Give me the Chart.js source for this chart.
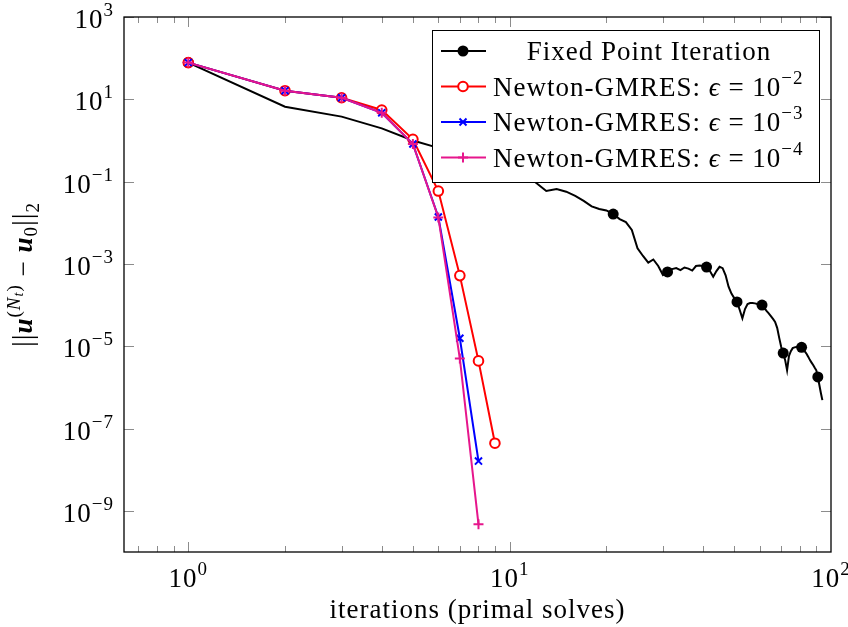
<!DOCTYPE html>
<html>
<head>
<meta charset="utf-8">
<script src="https://cdn.jsdelivr.net/npm/chart.js@4.4.0/dist/chart.umd.min.js"></script>
<style>
  html, body { margin: 0; padding: 0; background: #fff; }
</style>
</head>
<body>
<canvas id="grafico" width="848" height="627"></canvas>
<script>
// dados (eixos log-log)
const iteracoesFixo = [
  1, 2, 3, 4, 5, 6, 7, 8, 9, 10, 11, 12, 13, 14, 15, 16, 17, 18, 19, 20,
  21, 22, 23, 24, 25, 26, 27, 28, 29, 30, 31, 32, 33, 34, 35, 36, 37, 38, 39, 40,
  41, 42, 43, 44, 45, 46, 47, 48, 49, 50, 51, 52, 53, 54, 55, 56, 57, 58, 59, 60,
  61, 62, 63, 64, 65, 66, 67, 68, 69, 70, 71, 72, 73, 74, 75, 76, 77, 78, 79, 80,
  81, 82, 83, 84, 85, 86, 87, 88, 89, 90, 91, 92, 93, 94
];
const erroFixo = [
  78, 6.6, 3.8, 1.97, 1.0, 0.66, 0.52, 0.38, 0.28, 0.2,
  0.145, 0.098, 0.059, 0.066, 0.057, 0.045, 0.034, 0.025, 0.0216, 0.0199,
  0.0163, 0.0123, 0.0104, 0.0067, 0.0024, 0.00156, 0.00107, 0.00128, 8.9e-4, 5.4e-4,
  6.4e-4, 7.5e-4, 7.9e-4, 7.1e-4, 8.2e-4, 7.7e-4, 6.9e-4, 8.9e-4, 9.1e-4, 8.9e-4,
  8.4e-4, 6.7e-4, 4.9e-4, 6.7e-4, 8.5e-4, 7.9e-4, 5.3e-4, 2.8e-4, 1.9e-4, 1.48e-4,
  1.19e-4, 7.6e-5, 4.8e-5, 8.0e-5, 1.06e-4, 1.12e-4, 1.12e-4, 1.10e-4, 1.06e-4, 1.03e-4,
  1.0e-4, 8.5e-5, 7.2e-5, 6.3e-5, 5.4e-5, 4.6e-5, 3.9e-5, 2.8e-5, 1.6e-5, 9.6e-6,
  6.8e-6, 4.6e-6, 2.6e-6, 5.8e-6, 7.6e-6, 9.0e-6, 9.4e-6, 9.6e-6, 9.6e-6, 9.5e-6,
  9.4e-6, 8.6e-6, 7.4e-6, 6.5e-6, 5.5e-6, 4.6e-6, 4.0e-6, 3.5e-6, 3.0e-6, 2.6e-6,
  1.8e-6, 1.14e-6, 7.3e-7, 4.9e-7
];

const iteracoesEps2 = [1, 2, 3, 4, 5, 6, 7, 8, 9];
const erroEps2 = [78, 16.2, 10.9, 5.5, 1.07, 0.059, 5.2e-4, 4.4e-6, 4.4e-8];

const iteracoesEps3 = [1, 2, 3, 4, 5, 6, 7, 8];
const erroEps3 = [78, 16.2, 10.9, 4.7, 0.82, 0.0138, 1.56e-5, 1.62e-8];

const iteracoesEps4 = [1, 2, 3, 4, 5, 6, 7, 8];
const erroEps4 = [78, 16.2, 10.9, 4.7, 0.82, 0.0135, 5.0e-6, 4.7e-10];

// marcas dos eixos
const ticksX = [1, 10, 100];
const expoentesX = ["0", "1", "2"];
const ticksY = [1e3, 1e1, 1e-1, 1e-3, 1e-5, 1e-7, 1e-9];
const expoentesY = ["3", "1", "\u22121", "\u22123", "\u22125", "\u22127", "\u22129"];

const FONTE = '"Liberation Serif", "DejaVu Serif", serif';
const ROSA = "#e6168c";
const TAM = 27;     // tamanho do texto normal
const SUP = 19;     // tamanho do sobrescrito

function pares(xs, ys) {
  let lista = [];
  for (let i = 0; i < xs.length; i++) {
    lista.push({ x: xs[i], y: ys[i] });
  }
  return lista;
}

// escreve texto com sobrescrito/subscrito: [texto, tamanho, estilo, deslocamento]
function textoRico(ctx, partes, x, y, alinhamento) {
  ctx.letterSpacing = "1px";
  let largura = 0;
  partes.forEach(function (p) {
    ctx.font = `${p[2]} ${p[1]}px ${FONTE}`;
    largura += ctx.measureText(p[0]).width;
  });
  let cx = x;
  if (alinhamento == "center") cx = x - largura / 2;
  if (alinhamento == "right") cx = x - largura;
  ctx.textAlign = "left";
  ctx.textBaseline = "alphabetic";
  partes.forEach(function (p) {
    ctx.font = `${p[2]} ${p[1]}px ${FONTE}`;
    ctx.fillText(p[0], cx, y + p[3]);
    cx += ctx.measureText(p[0]).width;
  });
  ctx.letterSpacing = "0px";
}

function potencia(exp) {
  return [["10", TAM, "normal", 0], [exp, SUP, "normal", -12]];
}

function marca(ctx, tipo, cor, x, y) {
  ctx.save();
  ctx.strokeStyle = cor;
  ctx.fillStyle = cor;
  ctx.lineWidth = 2;
  ctx.beginPath();
  if (tipo == "bola") {
    ctx.arc(x, y, 5.5, 0, Math.PI * 2);
    ctx.fill();
  } else if (tipo == "circulo") {
    ctx.fillStyle = "#fff";
    ctx.arc(x, y, 4.8, 0, Math.PI * 2);
    ctx.fill();
    ctx.stroke();
  } else if (tipo == "xis") {
    ctx.moveTo(x - 3.5, y - 3.5); ctx.lineTo(x + 3.5, y + 3.5);
    ctx.moveTo(x - 3.5, y + 3.5); ctx.lineTo(x + 3.5, y - 3.5);
    ctx.stroke();
  } else {
    ctx.moveTo(x - 5, y); ctx.lineTo(x + 5, y);
    ctx.moveTo(x, y - 5); ctx.lineTo(x, y + 5);
    ctx.stroke();
  }
  ctx.restore();
}

const pluginEixos = {
  id: "eixos",
  afterDraw: function (chart) {
    const ctx = chart.ctx;
    const area = chart.chartArea;
    const sx = chart.scales.x;
    const sy = chart.scales.y;
    ctx.save();

    // marcas menores e maiores, para dentro, nos quatro lados
    ctx.strokeStyle = "#8c8c8c";
    ctx.lineWidth = 1;
    for (let d = -1; d <= 1; d++) {
      for (let m = 1; m <= 9; m++) {
        let v = m * Math.pow(10, d);
        if (v < sx.min || v > sx.max) continue;
        let px = Math.round(sx.getPixelForValue(v)) + 0.5;
        let tam = m == 1 ? 10 : 6;
        ctx.beginPath();
        ctx.moveTo(px, area.bottom); ctx.lineTo(px, area.bottom - tam);
        ctx.moveTo(px, area.top); ctx.lineTo(px, area.top + tam);
        ctx.stroke();
      }
    }
    ticksY.forEach(function (v) {
      let py = Math.round(sy.getPixelForValue(v)) + 0.5;
      ctx.beginPath();
      ctx.moveTo(area.left, py); ctx.lineTo(area.left + 10, py);
      ctx.moveTo(area.right, py); ctx.lineTo(area.right - 10, py);
      ctx.stroke();
    });

    // moldura
    ctx.strokeStyle = "#000";
    ctx.lineWidth = 1.3;
    ctx.strokeRect(area.left, area.top, area.right - area.left, area.bottom - area.top);

    // rótulos
    ctx.fillStyle = "#000";
    ticksX.forEach(function (v, i) {
      textoRico(ctx, potencia(expoentesX[i]), sx.getPixelForValue(v), area.bottom + 35, "center");
    });
    ticksY.forEach(function (v, i) {
      textoRico(ctx, potencia(expoentesY[i]), area.left - 10, sy.getPixelForValue(v) + 11, "right");
    });

    // títulos dos eixos
    textoRico(ctx, [["iterations (primal solves)", TAM, "normal", 0]],
      (area.left + area.right) / 2, area.bottom + 66, "center");

    ctx.save();
    ctx.translate(32, (area.top + area.bottom) / 2 - 10);
    ctx.rotate(-Math.PI / 2);
    textoRico(ctx, [
      ["||", TAM + 2, "normal", 0],
      ["u", TAM, "italic bold", 0],
      ["(", SUP, "normal", -12],
      ["N", SUP, "italic", -12],
      ["t", 14, "italic", -9],
      [")", SUP, "normal", -12],
      [" \u2212 ", TAM, "normal", 0],
      ["u", TAM, "italic bold", 0],
      ["0", SUP, "normal", 5],
      ["||", TAM + 2, "normal", 0],
      ["2", SUP, "normal", 7]
    ], 0, 0, "center");
    ctx.restore();

    // legenda
    const lx = area.right - 399;
    const ly = area.top + 13;
    const lw = 387;
    const lh = 152;
    ctx.fillStyle = "#fff";
    ctx.fillRect(lx, ly, lw, lh);
    ctx.strokeStyle = "#000";
    ctx.lineWidth = 1;
    ctx.strokeRect(lx + 0.5, ly + 0.5, lw, lh);

    const itens = [
      ["#000", "bola", [["Fixed Point Iteration", TAM, "normal", 0]]],
      ["#ff0000", "circulo", [["Newton-GMRES: ", TAM, "normal", 0], ["\u03f5", TAM, "italic", 0], [" = 10", TAM, "normal", 0], ["\u22122", SUP, "normal", -12]]],
      ["#0000ff", "xis", [["Newton-GMRES: ", TAM, "normal", 0], ["\u03f5", TAM, "italic", 0], [" = 10", TAM, "normal", 0], ["\u22123", SUP, "normal", -12]]],
      [ROSA, "mais", [["Newton-GMRES: ", TAM, "normal", 0], ["\u03f5", TAM, "italic", 0], [" = 10", TAM, "normal", 0], ["\u22124", SUP, "normal", -12]]]
    ];
    itens.forEach(function (item, i) {
      let cy = ly + 21 + i * 35.5;
      ctx.strokeStyle = item[0];
      ctx.lineWidth = 2;
      ctx.beginPath();
      ctx.moveTo(lx + 9, cy); ctx.lineTo(lx + 54, cy);
      ctx.stroke();
      marca(ctx, item[1], item[0], lx + 31, cy);
      ctx.fillStyle = "#000";
      if (i == 0) {
        textoRico(ctx, item[2], lx + 217, cy + 9, "center");
      } else {
        textoRico(ctx, item[2], lx + 61, cy + 9, "left");
      }
    });

    ctx.restore();
  }
};

const dadosGrafico = {
  datasets: [
    {
      label: "Fixed Point Iteration",
      data: pares(iteracoesFixo, erroFixo),
      borderColor: "#000",
      backgroundColor: "#000",
      borderWidth: 2,
      pointStyle: "circle",
      pointRadius: function (c) { return c.dataIndex % 10 == 0 ? 5.5 : 0; },
      pointBorderWidth: 0,
      order: 4
    },
    {
      label: "Newton-GMRES: eps = 1e-2",
      data: pares(iteracoesEps2, erroEps2),
      borderColor: "#ff0000",
      backgroundColor: "#fff",
      borderWidth: 2,
      pointStyle: "circle",
      pointRadius: 4.8,
      pointBorderWidth: 2,
      order: 3
    },
    {
      label: "Newton-GMRES: eps = 1e-3",
      data: pares(iteracoesEps3, erroEps3),
      borderColor: "#0000ff",
      backgroundColor: "#0000ff",
      borderWidth: 2,
      pointStyle: "crossRot",
      pointRadius: 5,
      pointBorderWidth: 2,
      order: 2
    },
    {
      label: "Newton-GMRES: eps = 1e-4",
      data: pares(iteracoesEps4, erroEps4),
      borderColor: ROSA,
      backgroundColor: ROSA,
      borderWidth: 2,
      pointStyle: "cross",
      pointRadius: 5,
      pointBorderWidth: 2,
      order: 1
    }
  ]
};

const config = {
  type: "scatter",
  data: dadosGrafico,
  options: {
    responsive: false,
    animation: false,
    devicePixelRatio: 1,
    showLine: true,
    layout: { padding: { left: 124, right: 17, top: 17, bottom: 75 } },
    scales: {
      x: { type: "logarithmic", bounds: "data", min: 0.631, max: 100, display: false },
      y: { type: "logarithmic", bounds: "data", min: 1e-10, max: 1e3, display: false }
    },
    elements: { line: { tension: 0 } },
    plugins: {
      legend: { display: false },
      tooltip: { enabled: false }
    }
  },
  plugins: [pluginEixos]
};

let meuGrafico = new Chart(document.getElementById("grafico"), config);
</script>
</body>
</html>
